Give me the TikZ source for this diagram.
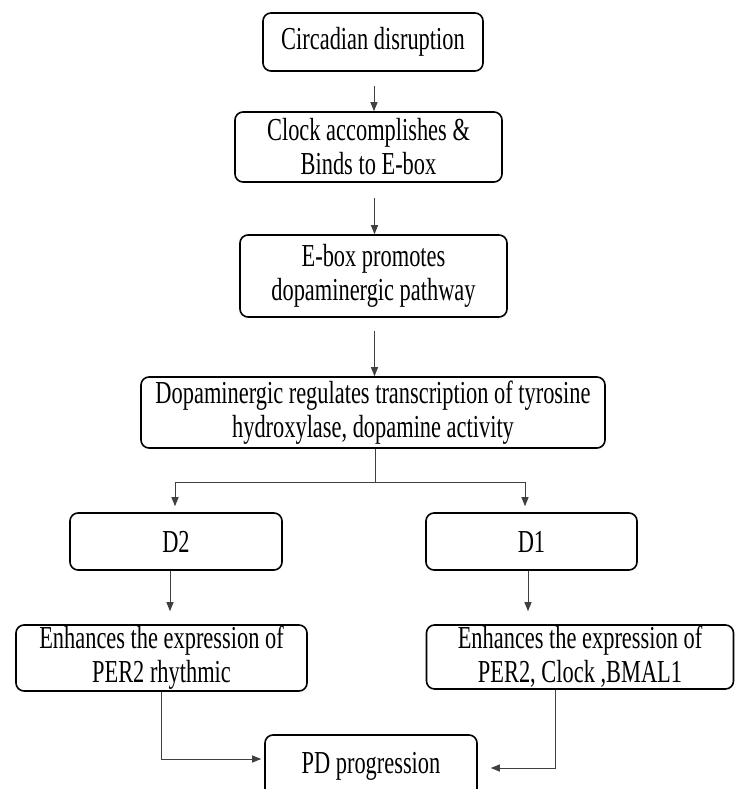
\documentclass[tikz,border=0pt]{standalone}
\usepackage{fontspec}
\setmainfont{Liberation Serif}[FakeStretch=0.70]
\usetikzlibrary{arrows.meta,calc}
\begin{document}
\begin{tikzpicture}[x=1pt,y=-1pt,
  box/.style={draw=black,line width=1.6pt,rounded corners=8pt,align=center,inner sep=0pt,font=\fontsize{32}{34}\selectfont,text=black},
  conn/.style={draw=black!75,line width=1pt},
  arr/.style={conn,-{Triangle[length=9pt,width=7pt]}}]
\clip (0,0) rectangle (736,789);
\fill[white] (0,0) rectangle (736,789);
\node[box,minimum width=220pt,minimum height=58pt] (b1) at (373,42) {Circadian disruption};
\node[box,minimum width=267pt,minimum height=70pt] (b2) at (368.5,147) {Clock accomplishes \&\\Binds to E-box};
\node[box,minimum width=267pt,minimum height=82pt] (b3) at (373.5,276) {E-box promotes\\dopaminergic pathway};
\node[box,minimum width=464pt,minimum height=71pt] (b4) at (373,412.5) {Dopaminergic regulates transcription of tyrosine\\hydroxylase, dopamine activity};
\node[box,minimum width=212pt,minimum height=57pt] (d2) at (176,541.5) {D2};
\node[box,minimum width=211pt,minimum height=57pt] (d1) at (531.5,541.5) {D1};
\node[box,minimum width=291pt,minimum height=66pt] (per) at (161.5,658) {Enhances the expression of\\PER2 rhythmic};
\node[box,minimum width=307pt,minimum height=64pt] (bm) at (580,657) {Enhances the expression of\\PER2, Clock ,BMAL1};
\node[box,minimum width=212pt,minimum height=62pt] (pd) at (371,766) {PD progression};

\draw[arr] ($(b1.south)+(1,14)$) -- ($(b1.south |- b2.north)+(1,0)$);
\draw[arr] ($(b2.south -| b3.north)+(1,15)$) -- ($(b3.north)+(1,0)$);
\draw[arr] ($(b3.south)+(1,13)$) -- ($(b3.south |- b4.north)+(1,0)$);
\coordinate (sp) at ($(b4.south)+(2,34)$);
\draw[conn] ($(b4.south)+(2,0)$) -- (sp);
\draw[arr] (sp) -| ($(d2.north)+(-1,-6)$);
\draw[arr] (sp) -| ($(d1.north)+(-6.5,-6)$);
\draw[arr] ($(d2.south)+(-6,0)$) -- ($(d2.south |- per.north)+(-6,-13)$);
\draw[arr] ($(d1.south)+(-3.5,0)$) -- ($(d1.south |- bm.north)+(-3.5,-13)$);
\draw[arr] (per.south) |- ($(pd.west)+(-3,-7)$);
\draw[arr] ($(bm.south)+(-25,0)$) |- ($(pd.east)+(13,2)$);
\end{tikzpicture}
\end{document}
